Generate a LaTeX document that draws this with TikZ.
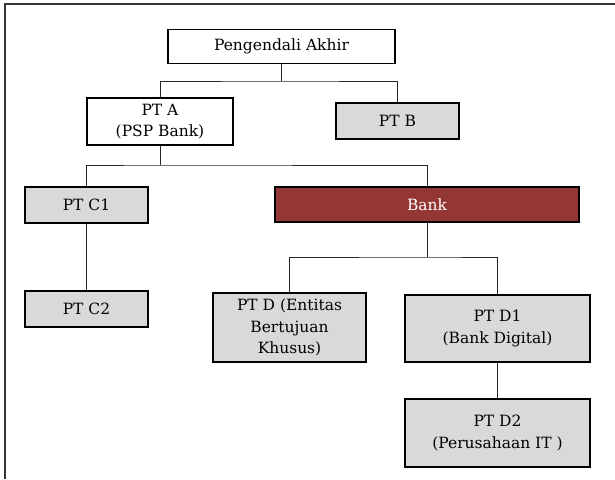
\documentclass[tikz,border=0pt]{standalone}
\usepackage{fontspec}
\setmainfont{DejaVu Serif}
\definecolor{boxgray}{HTML}{D9D9D9}
\definecolor{bankred}{HTML}{943634}
\begin{document}
\begin{tikzpicture}[x=1pt,y=1pt,
  orgbox/.style={draw=black, line width=1.8pt, fill=boxgray, align=center,
    inner sep=0pt, font=\fontsize{15.5}{21.5}\selectfont},
  conn/.style={draw=black!85, line width=0.9pt}]
\useasboundingbox (0,0) rectangle (615,-479);
\draw[line width=1.4pt, black!80] (5,-479) -- (5,-4) -- (615,-4);

\node[orgbox, fill=white, minimum width=227, minimum height=34] (P) at (281.5,-46.5) {Pengendali Akhir};
\node[orgbox, fill=white, minimum width=146, minimum height=47] (A) at (160,-121.5) {PT A\\(PSP Bank)};
\node[orgbox, minimum width=123, minimum height=36] (B) at (397.5,-121) {PT B};
\node[orgbox, minimum width=123, minimum height=36] (C1) at (86.5,-205) {PT C1};
\node[orgbox, fill=bankred, text=white, minimum width=304, minimum height=35] (K) at (427,-204.5) {Bank};
\node[orgbox, minimum width=123, minimum height=36] (C2) at (86.5,-309) {PT C2};
\node[orgbox, minimum width=153, minimum height=69] (D) at (289.5,-327.5) {PT D (Entitas\\Bertujuan\\Khusus)};
\node[orgbox, minimum width=185, minimum height=67] (D1) at (497.5,-328.5) {PT D1\\(Bank Digital)};
\node[orgbox, minimum width=185, minimum height=68] (D2) at (497.5,-433) {PT D2\\(Perusahaan IT )};

\coordinate (j1) at (281.5,-81);
\coordinate (j2) at (160,-165);
\coordinate (j3) at (427,-257);

\draw[conn] (P.south) -- (j1);
\draw[conn] (A.north) |- (j1) -| (B.north);
\draw[conn] (A.south) -- (j2);
\draw[conn] (C1.north) |- (j2) -| (K.north);
\draw[conn] (C1.south) -- (C2.north);
\draw[conn] (K.south) -- (j3);
\draw[conn] (D.north) |- (j3) -| (D1.north);
\draw[conn] (D1.south) -- (D2.north);
\end{tikzpicture}
\end{document}
